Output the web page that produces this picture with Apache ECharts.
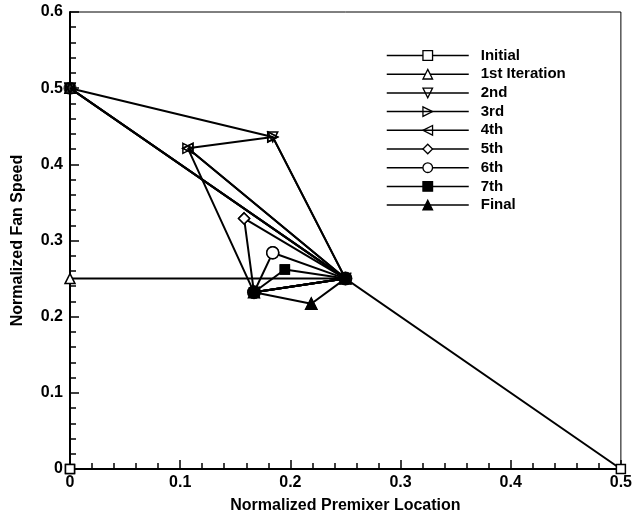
<!DOCTYPE html>
<html>
<head>
<meta charset="utf-8">
<script src="https://cdn.jsdelivr.net/npm/echarts@6/dist/echarts.min.js"></script>
<style>
html,body{margin:0;padding:0;background:#fff;}
#chart{width:635px;height:519px;}
</style>
</head>
<body>
<div id="chart"></div>
<script>
// ---- Data ----
const seriesNames = ['Initial', '1st Iteration', '2nd', '3rd', '4th', '5th', '6th', '7th', 'Final'];
// simplex vertices, closed (first vertex repeated)
const initialX = [0, 0.5, 0, 0];
const initialY = [0, 0, 0.5, 0];
const iter1X = [0, 0, 0.25, 0];
const iter1Y = [0.5, 0.25, 0.25, 0.5];
const iter2X = [0, 0.184, 0.25, 0];
const iter2Y = [0.5, 0.436, 0.25, 0.5];
const iter3X = [0.184, 0.107, 0.25, 0.184];
const iter3Y = [0.436, 0.421, 0.25, 0.436];
const iter4X = [0.107, 0.167, 0.25, 0.107];
const iter4Y = [0.421, 0.232, 0.25, 0.421];
const iter5X = [0.158, 0.167, 0.25, 0.158];
const iter5Y = [0.329, 0.232, 0.25, 0.329];
const iter6X = [0.184, 0.167, 0.25, 0.184];
const iter6Y = [0.284, 0.232, 0.25, 0.284];
const iter7X = [0.195, 0.167, 0.25, 0.195];
const iter7Y = [0.262, 0.232, 0.25, 0.262];
const finalX = [0.219, 0.167, 0.25, 0.219];
const finalY = [0.217, 0.232, 0.25, 0.217];
// shared vertices where many markers overlap
const sharedX = [0.167, 0.25, 0];
const sharedY = [0.232, 0.25, 0.5];
const sharedSize = [14, 14, 13];
const xTicks = ['0', '0.1', '0.2', '0.3', '0.4', '0.5'];
const yTicks = ['0', '0.1', '0.2', '0.3', '0.4', '0.5', '0.6'];

const FONT = "'Liberation Sans', Arial, sans-serif";
const pairs = (xs, ys) => xs.map((x, i) => [x, ys[i]]);

const seriesX = [initialX, iter1X, iter2X, iter3X, iter4X, iter5X, iter6X, iter7X, finalX];
const seriesY = [initialY, iter1Y, iter2Y, iter3Y, iter4Y, iter5Y, iter6Y, iter7Y, finalY];
const symbols = [
  'rect', 'triangle',
  'path://M0,0L10,0L5,10Z',
  'path://M0,0L10,5L0,10Z',
  'path://M10,0L0,5L10,10Z',
  'diamond', 'circle', 'rect', 'triangle'
];
const symSizes = [9, 10, 10, 10, 10, 11, 12, 9, 11];
const fills = ['#fff', '#fff', 'rgba(0,0,0,0)', 'rgba(0,0,0,0)', 'rgba(0,0,0,0)', '#fff', '#fff', '#000', '#000'];

const series = seriesNames.map((name, i) => ({
  name: name,
  type: 'line',
  data: pairs(seriesX[i], seriesY[i]),
  symbol: symbols[i],
  symbolSize: symSizes[i],
  showAllSymbol: true,
  clip: false,
  lineStyle: { color: '#000', width: 2 },
  itemStyle: { color: fills[i], borderColor: '#000', borderWidth: 1.5 },
  z: 2 + i
}));
series.push({
  name: 'shared',
  type: 'scatter',
  data: pairs(sharedX, sharedY).map((p, i) => ({ value: p, symbolSize: sharedSize[i] })),
  symbol: 'circle',
  clip: false,
  itemStyle: { color: '#000' },
  z: 20,
  silent: true
});

const chart = echarts.init(document.getElementById('chart'), null, { renderer: 'canvas' });
chart.setOption({
  animation: false,
  backgroundColor: '#fff',
  grid: {
    left: 70, right: 9, top: 12, bottom: 49,
    show: true, borderColor: '#000', borderWidth: 1, backgroundColor: 'transparent'
  },
  legend: {
    data: seriesNames,
    orient: 'vertical',
    left: 381, top: 43,
    itemWidth: 82, itemHeight: 12, itemGap: 3.7,
    textStyle: { fontFamily: FONT, fontSize: 15, fontWeight: 'bold', color: '#000', padding: [0, 0, 0, 7] },
    lineStyle: { color: '#000', width: 1.5 },
    itemStyle: { borderColor: '#000', borderWidth: 1.3 },
    selectedMode: false
  },
  xAxis: {
    type: 'value', min: 0, max: 0.5, interval: 0.1,
    name: 'Normalized Premixer Location', nameLocation: 'middle', nameGap: 29,
    nameTextStyle: { fontFamily: FONT, fontSize: 16, fontWeight: 'bold', color: '#000' },
    axisLine: { show: true, lineStyle: { color: '#000', width: 2 } },
    axisTick: { show: true, inside: true, length: 9, lineStyle: { color: '#000', width: 1.5 } },
    minorTick: { show: true, splitNumber: 5, length: 6, lineStyle: { color: '#000', width: 1.5 } },
    splitLine: { show: false },
    axisLabel: {
      fontFamily: FONT, fontSize: 16, fontWeight: 'bold', color: '#000', margin: 6,
      formatter: v => xTicks[Math.round(v * 10)]
    }
  },
  yAxis: {
    type: 'value', min: 0, max: 0.6, interval: 0.1,
    name: 'Normalized Fan Speed', nameLocation: 'middle', nameGap: 44,
    nameTextStyle: { fontFamily: FONT, fontSize: 16, fontWeight: 'bold', color: '#000' },
    axisLine: { show: true, lineStyle: { color: '#000', width: 2 } },
    axisTick: { show: true, inside: true, length: 9, lineStyle: { color: '#000', width: 1.5 } },
    minorTick: { show: true, splitNumber: 5, length: 6, lineStyle: { color: '#000', width: 1.5 } },
    splitLine: { show: false },
    axisLabel: {
      fontFamily: FONT, fontSize: 16, fontWeight: 'bold', color: '#000', margin: 7,
      formatter: v => yTicks[Math.round(v * 10)]
    }
  },
  series: series
});
</script>
</body>
</html>
